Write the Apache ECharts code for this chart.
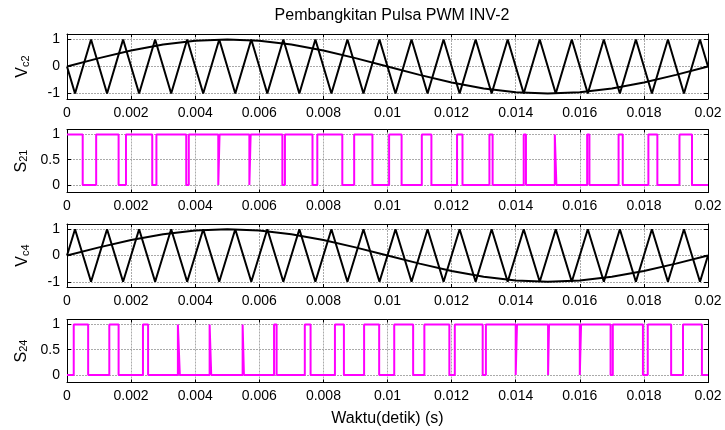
<!DOCTYPE html>
<html>
<head>
<meta charset="utf-8">
<script src="https://cdn.jsdelivr.net/npm/echarts@6/dist/echarts.min.js"></script>
<style>html,body{margin:0;padding:0;background:#fff;}#c{width:725px;height:430px;}</style>
</head>
<body>
<div id="c"></div>
<script>
// ---- data (times in milliseconds) ----
const xTickLabels = ['0','0.002','0.004','0.006','0.008','0.01','0.012','0.014','0.016','0.018','0.02'];
const yTickVc = [-1, 0, 1];
const yTickS = [0, 0.5, 1];

const carrierTms = [0,0.25,0.75,1.25,1.75,2.25,2.75,3.25,3.75,4.25,4.75,5.25,5.75,6.25,6.75,7.25,7.75,8.25,8.75,9.25,9.75,
  10.25,10.75,11.25,11.75,12.25,12.75,13.25,13.75,14.25,14.75,15.25,15.75,16.25,16.75,17.25,17.75,18.25,18.75,19.25,19.75,20];
const carrier2V = [0,-1,1,-1,1,-1,1,-1,1,-1,1,-1,1,-1,1,-1,1,-1,1,-1,1,-1,1,-1,1,-1,1,-1,1,-1,1,-1,1,-1,1,-1,1,-1,1,-1,1,0];
const carrier4V = [0,1,-1,1,-1,1,-1,1,-1,1,-1,1,-1,1,-1,1,-1,1,-1,1,-1,1,-1,1,-1,1,-1,1,-1,1,-1,1,-1,1,-1,1,-1,1,-1,1,-1,0];

const sineTms = [0,1,2,3,4,5,6,7,8,9,10,11,12,13,14,15,16,17,18,19,20];
const sine2V = [0,0.31,0.59,0.81,0.95,1,0.95,0.81,0.59,0.31,0,-0.31,-0.59,-0.81,-0.95,-1,-0.95,-0.81,-0.59,-0.31,0];
const sine4V = [0,0.31,0.59,0.81,0.95,1,0.95,0.81,0.59,0.31,0,-0.31,-0.59,-0.81,-0.95,-1,-0.95,-0.81,-0.59,-0.31,0];

const s21Tms = [0,0.49,0.91,1.61,1.84,2.66,2.79,3.72,3.80,4.72,4.76,5.69,5.73,6.72,6.80,7.66,7.81,8.59,8.96,9.53,
  10.05,10.44,11.07,11.37,12.17,12.34,13.18,13.28,14.25,14.32,15.22,15.27,16.23,16.30,17.21,17.34,18.14,18.42,19.11,19.50,20];
const s21V = [1,0,1,0,1,0,1,0,1,0,1,0,1,0,1,0,1,0,1,0,1,0,1,0,1,0,1,0,1,0,1,0,1,0,1,0,1,0,1,0,0];

const s24Tms = [0,0.21,0.66,1.32,1.61,2.37,2.53,3.46,3.52,4.45,4.50,5.48,5.52,6.46,6.54,7.42,7.60,8.36,8.64,9.27,9.74,
  10.21,10.80,11.15,11.93,12.10,12.97,13.07,14.00,14.04,15.01,15.04,16.00,16.04,16.96,17.03,17.97,18.12,18.85,19.22,19.81,20];
const s24V = [0,1,0,1,0,1,0,1,0,1,0,1,0,1,0,1,0,1,0,1,0,1,0,1,0,1,0,1,0,1,0,1,0,1,0,1,0,1,0,1,0,0];

const yNames = [['V','c2'],['S','21'],['V','c4'],['S','24']];
// ---- build ----
const pair = (t, v) => t.map((x, i) => [x / 1000, v[i]]);
const FONT = '"Liberation Sans", Arial, Helvetica, sans-serif';
const grids = [
  {left: 67, right: 17, top: 34, height: 65},
  {left: 67, right: 17, top: 129.5, height: 63},
  {left: 67, right: 17, top: 224, height: 63},
  {left: 67, right: 17, top: 319.5, height: 63}
];
const yRanges = [[-1.2, 1.2], [-0.15, 1.1], [-1.2, 1.2], [-0.15, 1.1]];
const yTicks = [yTickVc, yTickS, yTickVc, yTickS];
const gridLine = {show: true, lineStyle: {color: '#aaaaaa', width: 1, type: [2, 1]}};

const xAxis = [], yAxis = [];
grids.forEach((g, i) => {
  xAxis.push({
    type: 'value', gridIndex: i, position: 'bottom', min: 0, max: 0.02, interval: 0.002,
    axisLine: {show: true, onZero: false, lineStyle: {color: '#000', width: 1}},
    axisTick: {show: true, inside: true, length: 3, lineStyle: {color: '#000'}},
    axisLabel: {show: true, color: '#000', fontSize: 14, fontFamily: FONT, margin: 7,
      formatter: v => xTickLabels[Math.round(v / 0.002)]},
    splitLine: gridLine,
    name: i === 3 ? 'Waktu(detik) (s)' : '', nameLocation: 'middle', nameGap: 28,
    nameTextStyle: {color: '#000', fontSize: 16, fontFamily: FONT}
  });
  xAxis.push({
    type: 'value', gridIndex: i, position: 'top', min: 0, max: 0.02, interval: 0.002,
    axisLine: {show: true, onZero: false, lineStyle: {color: '#000', width: 1}},
    axisTick: {show: true, inside: true, length: 3, lineStyle: {color: '#000'}},
    axisLabel: {show: false}, splitLine: {show: false}
  });
  yAxis.push({
    type: 'value', gridIndex: i, position: 'left', min: yRanges[i][0], max: yRanges[i][1],
    axisLine: {show: true, onZero: false, lineStyle: {color: '#000', width: 1}},
    axisTick: {show: true, inside: true, length: 4, customValues: yTicks[i], lineStyle: {color: '#000'}},
    axisLabel: {show: true, color: '#000', fontSize: 14, fontFamily: FONT, margin: 7, customValues: yTicks[i],
      formatter: v => String(v)},
    splitLine: gridLine,
    name: '{v|' + yNames[i][0] + '}{s|' + yNames[i][1] + '}',
    nameLocation: 'middle', nameRotate: 90, nameGap: 36,
    nameTextStyle: {color: '#000', fontFamily: FONT,
      rich: {
        v: {fontSize: 16, lineHeight: 16, fontFamily: FONT, color: '#000', verticalAlign: 'top'},
        s: {fontSize: 11, lineHeight: 11, fontFamily: FONT, color: '#000', padding: [9, 0, 0, 0], verticalAlign: 'bottom'}
      }}
  });
  yAxis.push({
    type: 'value', gridIndex: i, position: 'right', min: yRanges[i][0], max: yRanges[i][1],
    axisLine: {show: true, onZero: false, lineStyle: {color: '#000', width: 1}},
    axisTick: {show: true, inside: true, length: 4, customValues: yTicks[i], lineStyle: {color: '#000'}},
    axisLabel: {show: false}, splitLine: {show: false}
  });
});

const lineSeries = (idx, data, color, step) => ({
  type: 'line', xAxisIndex: idx * 2, yAxisIndex: idx * 2, data: data,
  showSymbol: false, symbol: 'none', step: step || false, animation: false,
  lineStyle: {color: color, width: 2}, z: 3
});

const series = [
  lineSeries(0, pair(carrierTms, carrier2V), '#000'),
  lineSeries(0, pair(sineTms, sine2V), '#000'),
  lineSeries(1, pair(s21Tms, s21V), '#ff00ff', 'end'),
  lineSeries(2, pair(carrierTms, carrier4V), '#000'),
  lineSeries(2, pair(sineTms, sine4V), '#000'),
  lineSeries(3, pair(s24Tms, s24V), '#ff00ff', 'end')
];

const chart = echarts.init(document.getElementById('c'), null, {renderer: 'canvas'});
chart.setOption({
  animation: false,
  backgroundColor: '#fff',
  title: {
    text: 'Pembangkitan Pulsa PWM INV-2', left: 387, top: 3, textAlign: 'center',
    textStyle: {color: '#000', fontSize: 16, fontWeight: 'normal', fontFamily: FONT}
  },
  grid: grids,
  xAxis: xAxis,
  yAxis: yAxis,
  series: series
});
</script>
</body>
</html>
